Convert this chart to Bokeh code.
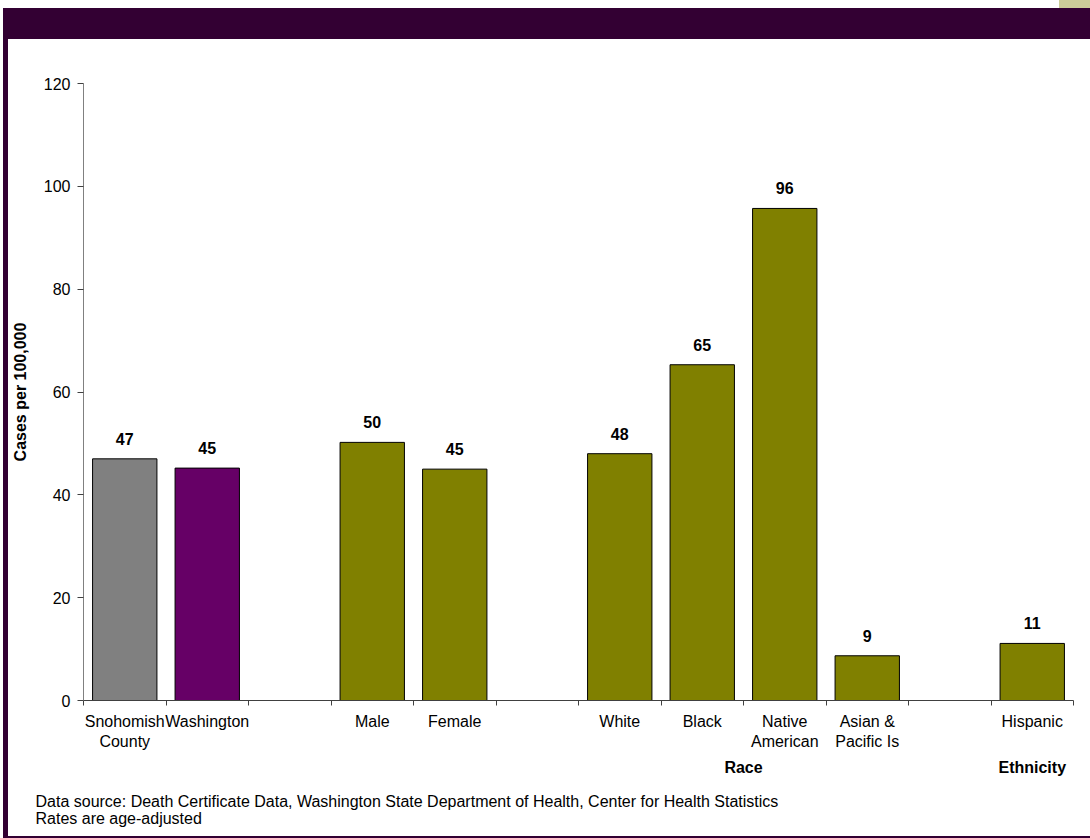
from bokeh.plotting import figure
from bokeh.models import (FixedTicker, LinearAxis, Title,
                          Range1d, ColumnDataSource)
from bokeh.embed import file_html
from bokeh.resources import INLINE
from bokeh.core.properties import value

# ---------------- data ----------------
categories = ["Snohomish County", "Washington", "Male", "Female", "White",
              "Black", "Native American", "Asian & Pacific Is", "Hispanic"]
tick_labels = ["Snohomish\nCounty", "Washington", "Male", "Female", "White",
               "Black", "Native\nAmerican", "Asian &\nPacific Is", "Hispanic"]
groups = ["Total", "Total", "Sex", "Sex", "Race", "Race", "Race", "Race",
          "Ethnicity"]
rates = [47.0, 45.2, 50.2, 45.0, 48.0, 65.3, 95.7, 8.7, 11.1]
titled_groups = ["Race", "Ethnicity"]
y_ticks = [0, 20, 40, 60, 80, 100, 120]
footnotes = ["Data source: Death Certificate Data, Washington State Department of Health, Center for Health Statistics",
             "Rates are age-adjusted"]

# ---------------- layout of slots (a blank slot between groups) ----------------
slot = []
s = 0
for i, g in enumerate(groups):
    if i > 0 and g != groups[i - 1]:
        s += 1
    slot.append(s)
    s += 1
n_slots = s
centers = [v + 0.5 for v in slot]

group_colors = {"Sex": "#808000", "Race": "#808000", "Ethnicity": "#808000"}
first_colors = ["#808080", "#660066"]
colors = [first_colors[i] if g == "Total" else group_colors[g]
          for i, g in enumerate(groups)]

src = ColumnDataSource(dict(x=centers, top=rates, color=colors,
                            label=[str(int(round(r))) for r in rates]))

FONT = "Liberation Sans"
W, H = 1090, 838

p = figure(width=W, height=H, x_range=Range1d(0, n_slots),
           y_range=Range1d(y_ticks[0], y_ticks[-1]),
           output_backend="svg", toolbar_location=None,
           min_border_left=83, min_border_right=17, min_border_top=83,
           min_border_bottom=138)
# page decorations (banner, side strip, bottom rule, corner square)
p.styles = {
    "background-color": "white",
    "background-image": ("linear-gradient(#330033,#330033), "
                         "linear-gradient(#330033,#330033), "
                         "linear-gradient(#330033,#330033), "
                         "linear-gradient(#CCCC99,#CCCC99)"),
    "background-size": "1087px 31px, 5px 830px, 1087px 2px, 31px 8px",
    "background-position": "3px 8px, 3px 8px, 3px 836px, 1059px 0px",
    "background-repeat": "no-repeat",
}
p.border_fill_color = None
p.background_fill_color = "white"
p.outline_line_color = None
p.xgrid.visible = False
p.ygrid.visible = False

p.vbar(x="x", top="top", bottom=0, width=0.78, fill_color="color",
       line_color="black", line_width=1, source=src)
p.text(x="x", y="top", text="label", source=src, text_align="center",
       text_baseline="alphabetic", y_offset=-20,
       text_font=value(FONT), text_font_size="16px", text_font_style="bold",
       text_color="black")

# y axis
ya = p.yaxis[0]
ya.ticker = FixedTicker(ticks=y_ticks)
ya.axis_line_color = "#808080"
ya.major_tick_line_color = "#404040"
ya.major_tick_in = 0
ya.major_tick_out = 6
ya.minor_tick_line_color = None
ya.major_label_text_font = FONT
ya.major_label_text_font_size = "16px"
ya.major_label_text_color = "black"
ya.major_label_standoff = 7
ya.axis_label = "Cases per 100,000"
ya.axis_label_text_font = FONT
ya.axis_label_text_font_size = "16px"
ya.axis_label_text_font_style = "bold"
ya.axis_label_text_color = "black"
ya.axis_label_standoff = 12

# x axis: labels at centres, tick marks at slot boundaries
xa = p.xaxis[0]
xa.ticker = FixedTicker(ticks=centers,
                        minor_ticks=list(range(n_slots + 1)))
xa.major_label_overrides = {c: t for c, t in zip(centers, tick_labels)}
xa.axis_line_color = "#404040"
xa.major_tick_in = 0
xa.major_tick_out = 0
xa.minor_tick_in = 0
xa.minor_tick_out = 5
xa.minor_tick_line_color = "#404040"
xa.major_label_text_font = FONT
xa.major_label_text_font_size = "16px"
xa.major_label_text_color = "black"
xa.major_label_standoff = 7

# group titles (Race / Ethnicity)
gpos = {}
for g in titled_groups:
    idx = [i for i, gg in enumerate(groups) if gg == g]
    gpos[(slot[idx[0]] + slot[idx[-1]] + 1) / 2] = g
ga = LinearAxis(ticker=FixedTicker(ticks=list(gpos.keys())),
                major_label_overrides=gpos)
ga.axis_line_color = None
ga.major_tick_line_color = None
ga.minor_tick_line_color = None
ga.major_tick_in = 0
ga.major_tick_out = 0
ga.major_label_text_font = FONT
ga.major_label_text_font_size = "16px"
ga.major_label_text_font_style = "bold"
ga.major_label_text_color = "black"
ga.major_label_standoff = 6
p.add_layout(ga, "below")

# footnote
foot = Title(text="\n".join(footnotes), align="left", offset=-48,
             text_font=FONT, text_font_size="16px",
             text_font_style="normal", text_color="black",
             text_line_height=1.0, standoff=24)
p.add_layout(foot, "below")

open("out.html", "w").write(file_html(p, INLINE))
